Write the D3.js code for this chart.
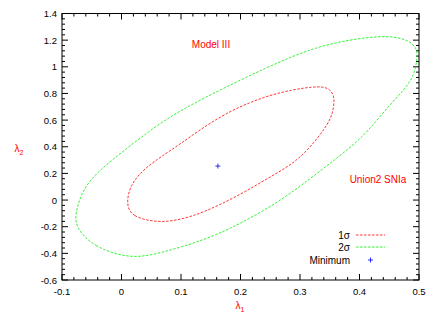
<!DOCTYPE html>
<html>
<head>
<meta charset="utf-8">
<script src="https://cdn.jsdelivr.net/npm/d3@7"></script>
<style>
  body { margin: 0; background: #fff; }
  text { font-family: "Liberation Sans", Arial, sans-serif; }
</style>
</head>
<body>
<div id="chart"></div>
<script>
// contour points (lambda1, lambda2)
const sigma1 = [[0.008,-0.03],[0.017,-0.125],[0.060,-0.17],[0.098,-0.15],[0.140,-0.09],[0.199,0.038],
  [0.250,0.175],[0.300,0.30],[0.345,0.55],[0.355,0.65],[0.359,0.77],[0.350,0.84],[0.329,0.86],
  [0.250,0.80],[0.166,0.64],[0.093,0.40],[0.040,0.25],[0.014,0.11]];
const sigma2 = [[-0.078,-0.20],[-0.048,-0.35],[0.014,-0.443],[0.065,-0.40],[0.140,-0.30],[0.199,-0.18],
  [0.270,0.0],[0.327,0.195],[0.384,0.39],[0.413,0.51],[0.456,0.744],[0.490,0.894],[0.498,1.075],
  [0.496,1.146],[0.479,1.21],[0.439,1.24],[0.350,1.18],[0.283,1.075],[0.199,0.90],[0.102,0.684],
  [0.048,0.526],[-0.019,0.290],[-0.052,0.160],[-0.068,0.04],[-0.077,-0.09]];
const minimum = [0.162, 0.255];
const xTicks = [-0.1, 0, 0.1, 0.2, 0.3, 0.4, 0.5];
const yTicks = [-0.6, -0.4, -0.2, 0, 0.2, 0.4, 0.6, 0.8, 1, 1.2, 1.4];
const legendLabels = ["1σ", "2σ", "Minimum"];

const W = 436, H = 327;
const margin = { top: 13.5, right: 17, bottom: 47, left: 62 };

const svg = d3.select("#chart").append("svg")
    .attr("width", W).attr("height", H);

const x = d3.scaleLinear().domain([-0.1, 0.5]).range([margin.left, W - margin.right]);
const y = d3.scaleLinear().domain([-0.6, 1.4]).range([H - margin.bottom, margin.top]);

const fmt = d => d === 0 ? "0" : String(+d.toFixed(1));

// frame
svg.append("rect")
    .attr("x", x(-0.1)).attr("y", y(1.4))
    .attr("width", x(0.5) - x(-0.1)).attr("height", y(-0.6) - y(1.4))
    .attr("fill", "none").attr("stroke", "#000").attr("stroke-width", 1);

// ticks (inward, mirrored), minor ticks
const xMinor = d3.range(-0.1, 0.5001, 0.02);
const yMinor = d3.range(-0.6, 1.4001, 0.04);
const tk = svg.append("g").attr("stroke", "#000").attr("stroke-width", 1);
xMinor.forEach(v => {
  const major = xTicks.some(t => Math.abs(t - v) < 1e-6);
  const len = major ? 6 : 3;
  tk.append("line").attr("x1", x(v)).attr("x2", x(v)).attr("y1", y(-0.6)).attr("y2", y(-0.6) - len);
  tk.append("line").attr("x1", x(v)).attr("x2", x(v)).attr("y1", y(1.4)).attr("y2", y(1.4) + len);
});
yMinor.forEach(v => {
  const major = yTicks.some(t => Math.abs(t - v) < 1e-6);
  const len = major ? 6 : 3;
  tk.append("line").attr("y1", y(v)).attr("y2", y(v)).attr("x1", x(-0.1)).attr("x2", x(-0.1) + len);
  tk.append("line").attr("y1", y(v)).attr("y2", y(v)).attr("x1", x(0.5)).attr("x2", x(0.5) - len);
});

// tick labels
svg.append("g").selectAll("text").data(xTicks).join("text")
    .attr("x", d => x(d)).attr("y", y(-0.6) + 15)
    .attr("text-anchor", "middle").attr("font-size", 9.5).text(fmt);
svg.append("g").selectAll("text").data(yTicks).join("text")
    .attr("x", x(-0.1) - 5).attr("y", d => y(d) + 3.5)
    .attr("text-anchor", "end").attr("font-size", 9.5).text(fmt);

// axis titles
const xl = svg.append("text").attr("x", 240).attr("y", 309).attr("text-anchor", "middle")
    .attr("fill", "red").attr("font-size", 10);
xl.append("tspan").text("λ");
xl.append("tspan").attr("font-size", 7).attr("dy", 3).text("1");
const yl = svg.append("text").attr("x", 19).attr("y", 152).attr("text-anchor", "middle")
    .attr("fill", "red").attr("font-size", 10);
yl.append("tspan").text("λ");
yl.append("tspan").attr("font-size", 7).attr("dy", 3).text("2");

// contours
const line = d3.line().x(d => x(d[0])).y(d => y(d[1])).curve(d3.curveBasisClosed);
svg.append("path").attr("d", line(sigma2)).attr("fill", "none")
    .attr("stroke", "#00ee00").attr("stroke-width", 0.8).attr("stroke-dasharray", "2.5,1.5");
svg.append("path").attr("d", line(sigma1)).attr("fill", "none")
    .attr("stroke", "#ff0000").attr("stroke-width", 0.8).attr("stroke-dasharray", "2.5,1.5");

// minimum point
const plus = (g, cx, cy) => {
  g.append("line").attr("x1", cx - 2.5).attr("x2", cx + 2.5).attr("y1", cy).attr("y2", cy);
  g.append("line").attr("x1", cx).attr("x2", cx).attr("y1", cy - 2.5).attr("y2", cy + 2.5);
};
const pg = svg.append("g").attr("stroke", "#0000ff").attr("stroke-width", 0.8);
plus(pg, x(minimum[0]), y(minimum[1]));

// annotations
svg.append("text").attr("x", 211).attr("y", 48).attr("text-anchor", "middle")
    .attr("fill", "red").attr("font-size", 10).text("Model III");
svg.append("text").attr("x", 378).attr("y", 183).attr("text-anchor", "middle")
    .attr("fill", "red").attr("font-size", 10).text("Union2 SNIa");

// legend
const legendY = [235, 247, 260];
const lg = svg.append("g");
legendLabels.forEach((lab, i) => {
  lg.append("text").attr("x", 350).attr("y", legendY[i] + 3.5).attr("text-anchor", "end")
      .attr("font-size", 10).text(lab);
});
lg.append("line").attr("x1", 356).attr("x2", 385).attr("y1", legendY[0]).attr("y2", legendY[0])
    .attr("stroke", "#ff0000").attr("stroke-width", 0.8).attr("stroke-dasharray", "2.5,1.5");
lg.append("line").attr("x1", 356).attr("x2", 385).attr("y1", legendY[1]).attr("y2", legendY[1])
    .attr("stroke", "#00ee00").attr("stroke-width", 0.8).attr("stroke-dasharray", "2.5,1.5");
plus(lg.append("g").attr("stroke", "#0000ff").attr("stroke-width", 0.8), 370.5, legendY[2]);
</script>
</body>
</html>
